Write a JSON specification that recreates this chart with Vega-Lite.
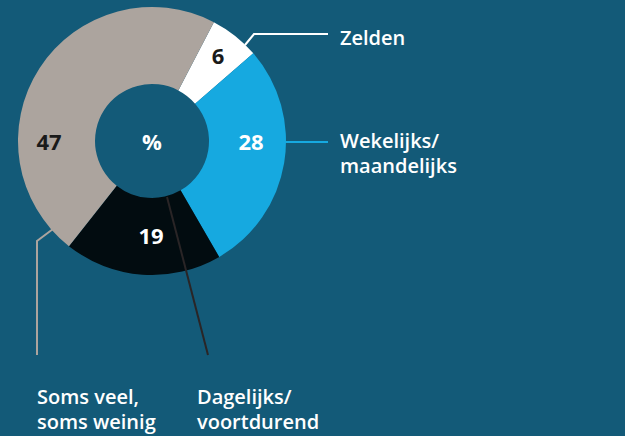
{
  "$schema": "https://vega.github.io/schema/vega-lite/v6.json",
  "width": 625,
  "height": 436,
  "autosize": {"type": "fit", "contains": "padding"},
  "padding": 0,
  "background": "#135a78",
  "config": {"view": {"stroke": null}},
  "datasets": {
    "slices": [
      {"cat": "Zelden", "value": 6, "order": 1},
      {"cat": "Wekelijks/maandelijks", "value": 28, "order": 2},
      {"cat": "Dagelijks/voortdurend", "value": 19, "order": 3},
      {"cat": "Soms veel, soms weinig", "value": 47, "order": 4}
    ],
    "numbers": [
      {"t": "6", "x": 218, "y": 57},
      {"t": "28", "x": 251, "y": 143},
      {"t": "19", "x": 151, "y": 237},
      {"t": "47", "x": 49, "y": 143},
      {"t": "%", "x": 152, "y": 143}
    ],
    "leaders": [
      {"cat": "Zelden", "o": 1, "x": 245, "y": 45},
      {"cat": "Zelden", "o": 2, "x": 254, "y": 34},
      {"cat": "Zelden", "o": 3, "x": 328, "y": 34},
      {"cat": "Wekelijks/maandelijks", "o": 1, "x": 285, "y": 142},
      {"cat": "Wekelijks/maandelijks", "o": 2, "x": 328, "y": 142},
      {"cat": "Soms veel, soms weinig", "o": 1, "x": 53, "y": 229},
      {"cat": "Soms veel, soms weinig", "o": 2, "x": 37, "y": 241},
      {"cat": "Soms veel, soms weinig", "o": 3, "x": 37, "y": 355},
      {"cat": "Dagelijks/voortdurend", "o": 1, "x": 167, "y": 197},
      {"cat": "Dagelijks/voortdurend", "o": 2, "x": 208, "y": 355}
    ],
    "labels": [
      {"t": "Zelden", "x": 340, "y": 45},
      {"t": "Wekelijks/", "x": 340, "y": 148},
      {"t": "maandelijks", "x": 340, "y": 173},
      {"t": "Soms veel,", "x": 37, "y": 404},
      {"t": "soms weinig", "x": 37, "y": 429},
      {"t": "Dagelijks/", "x": 197, "y": 404},
      {"t": "voortdurend", "x": 197, "y": 429}
    ]
  },
  "layer": [
    {
      "data": {"name": "slices"},
      "mark": {"type": "arc", "innerRadius": 57, "outerRadius": 134},
      "encoding": {
        "x": {"datum": 152, "type": "quantitative", "scale": {"domain": [0, 625]}, "axis": null},
        "y": {"datum": 141, "type": "quantitative", "scale": {"domain": [0, 436], "reverse": true}, "axis": null},
        "theta": {"field": "value", "type": "quantitative", "stack": true, "scale": {"range": [0.48, 6.7632]}},
        "order": {"field": "order"},
        "color": {
          "field": "cat", "type": "nominal", "legend": null,
          "scale": {
            "domain": ["Zelden", "Wekelijks/maandelijks", "Dagelijks/voortdurend", "Soms veel, soms weinig"],
            "range": ["#ffffff", "#16a9e0", "#020c10", "#aca49e"]
          }
        }
      }
    },
    {
      "data": {"name": "leaders"},
      "mark": {"type": "line", "strokeWidth": 2},
      "encoding": {
        "x": {"field": "x", "type": "quantitative", "scale": {"domain": [0, 625]}, "axis": null},
        "y": {"field": "y", "type": "quantitative", "scale": {"domain": [0, 436], "reverse": true}, "axis": null},
        "order": {"field": "o"},
        "detail": {"field": "cat"},
        "stroke": {
          "field": "cat", "type": "nominal", "legend": null,
          "scale": {
            "domain": ["Zelden", "Wekelijks/maandelijks", "Dagelijks/voortdurend", "Soms veel, soms weinig"],
            "range": ["#ffffff", "#16a9e0", "#2a2526", "#aca49e"]
          }
        }
      }
    },
    {
      "data": {"name": "numbers"},
      "mark": {"type": "text", "font": "Open Sans", "fontWeight": "bold", "fontSize": 22, "align": "center", "baseline": "middle"},
      "encoding": {
        "x": {"field": "x", "type": "quantitative", "scale": {"domain": [0, 625]}, "axis": null},
        "y": {"field": "y", "type": "quantitative", "scale": {"domain": [0, 436], "reverse": true}, "axis": null},
        "text": {"field": "t"},
        "color": {"condition": {"test": "datum.t === '6' || datum.t === '47'", "value": "#1a1a1a"}, "value": "#ffffff"}
      }
    },
    {
      "data": {"name": "labels"},
      "mark": {"type": "text", "font": "Open Sans", "fontWeight": 600, "fontSize": 20, "align": "left", "baseline": "alphabetic", "color": "#ffffff"},
      "encoding": {
        "x": {"field": "x", "type": "quantitative", "scale": {"domain": [0, 625]}, "axis": null},
        "y": {"field": "y", "type": "quantitative", "scale": {"domain": [0, 436], "reverse": true}, "axis": null},
        "text": {"field": "t"}
      }
    }
  ]
}
